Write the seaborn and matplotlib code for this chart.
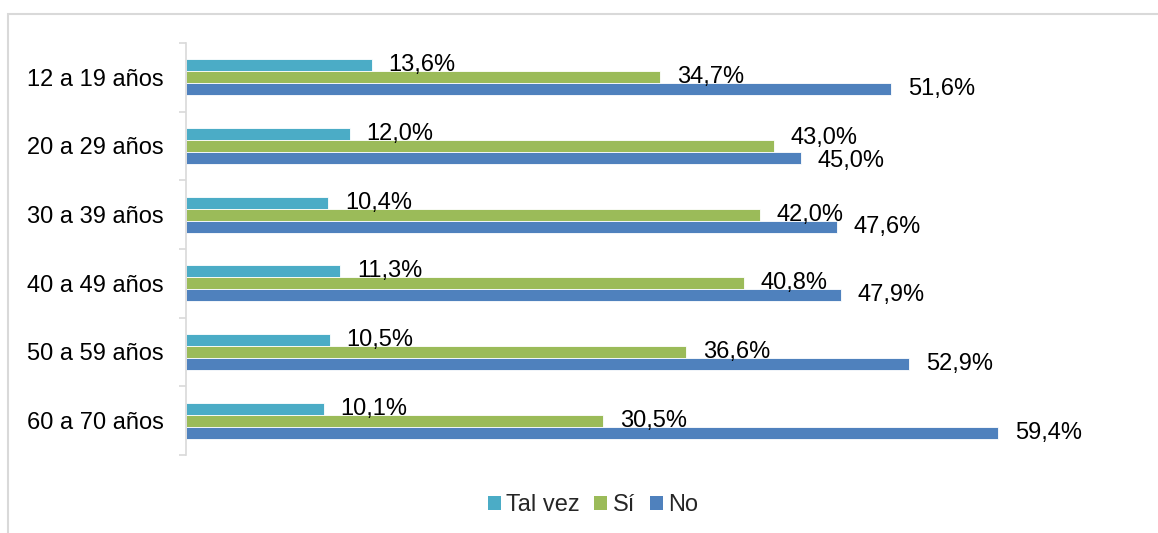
import pandas as pd
import matplotlib.pyplot as plt
import seaborn as sns
from matplotlib.patches import Rectangle

# Data
grupos = ["12 a 19 años", "20 a 29 años", "30 a 39 años",
          "40 a 49 años", "50 a 59 años", "60 a 70 años"]
tal_vez = [13.6, 12.0, 10.4, 11.3, 10.5, 10.1]
si = [34.7, 43.0, 42.0, 40.8, 36.6, 30.5]
no = [51.6, 45.0, 47.6, 47.9, 52.9, 59.4]
series = ["Tal vez", "Sí", "No"]
colores = ["#4BACC6", "#9BBB59", "#4F81BD"]

df = pd.DataFrame({"grupo": grupos, "Tal vez": tal_vez, "Sí": si, "No": no})
df = df.melt(id_vars="grupo", var_name="respuesta", value_name="pct")

sns.set_style("white")
plt.rcParams["font.family"] = ["Liberation Sans", "DejaVu Sans"]

W, H = 1158, 533
fig = plt.figure(figsize=(W / 100, H / 100), dpi=100)
ax = fig.add_axes([186 / W, 1 - 455 / H, (1100 - 186) / W, (455 - 43) / H])

sns.barplot(data=df, y="grupo", x="pct", hue="respuesta", order=grupos,
            hue_order=series, palette=colores, saturation=1, orient="h", width=0.524,
            edgecolor="white", linewidth=0.6, ax=ax, legend=False)

anns = []
for cont in ax.containers:
    anns.append(ax.bar_label(cont, labels=[f"{v.get_width():.1f}".replace(".", ",") + "%" for v in cont],
                             padding=12, fontsize=17, color="black"))

# the 20-29 labels are nudged apart, as in the original
anns[1][1].xyann = (12, 6)
anns[2][1].xyann = (12, -2.5)

ax.set_xlim(0, (1100 - 186) / 13.67)
ax.set_ylim(5.5, -0.5)
ax.set_xlabel("")
ax.set_ylabel("")
ax.set_xticks([])
for s in ["top", "right", "bottom"]:
    ax.spines[s].set_visible(False)
ax.spines["left"].set_color("#d9d9d9")
ax.spines["left"].set_linewidth(1.2)
ax.tick_params(axis="y", which="major", left=False, length=0, pad=16, labelsize=17, labelcolor="black")
ax.set_yticks([i + 0.5 for i in range(-1, 6)], minor=True)
ax.tick_params(axis="y", which="minor", left=True, length=5, width=1.2, color="#d9d9d9", direction="out")

# legend at the bottom, square markers
handles = [Rectangle((0, 0), 1, 1, facecolor=c, edgecolor="none") for c in colores]
fig.legend(handles, series, loc="center", bbox_to_anchor=(593 / W, 1 - 505 / H),
           ncol=3, frameon=False, fontsize=17, handlelength=0.55, handleheight=0.55,
           handletextpad=0.25, columnspacing=0.6)

# chart area border (top and left edges)
fig.patches.append(Rectangle((8 / W, -0.1), 1.2, 1 - 14 / H + 0.1, transform=fig.transFigure,
                             fill=False, edgecolor="#d9d9d9", linewidth=1.5))

fig.savefig("out.png", dpi=100)
